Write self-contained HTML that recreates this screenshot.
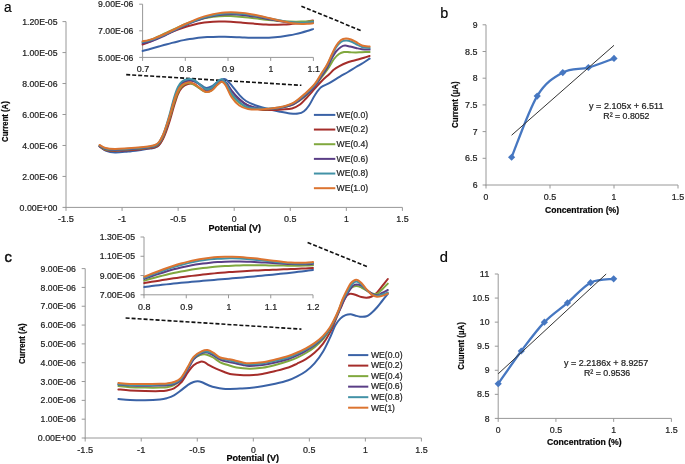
<!DOCTYPE html>
<html><head><meta charset="utf-8"><title>figure</title>
<style>
html,body{margin:0;padding:0;background:#fff;}
body{width:685px;height:464px;overflow:hidden;}
svg{display:block;font-family:"Liberation Sans",sans-serif;fill:#1e1e1e;filter:blur(0.45px);}
text{stroke:#1e1e1e;stroke-width:0.22px;}
</style></head>
<body>
<svg width="685" height="464" viewBox="0 0 685 464">
<rect width="685" height="464" fill="#fff"/>
<line x1="66.00" y1="21.60" x2="66.00" y2="207.90" stroke="#989898" stroke-width="1" />
<line x1="65.50" y1="207.40" x2="402.40" y2="207.40" stroke="#989898" stroke-width="1" />
<line x1="62.50" y1="207.40" x2="66.00" y2="207.40" stroke="#989898" stroke-width="1" />
<text x="57.50" y="210.50" font-size="8.8" textLength="37.95" lengthAdjust="spacingAndGlyphs" text-anchor="end">0.00E+00</text>
<line x1="62.50" y1="176.43" x2="66.00" y2="176.43" stroke="#989898" stroke-width="1" />
<text x="57.50" y="179.53" font-size="8.8" textLength="35.20" lengthAdjust="spacingAndGlyphs" text-anchor="end">2.00E-06</text>
<line x1="62.50" y1="145.47" x2="66.00" y2="145.47" stroke="#989898" stroke-width="1" />
<text x="57.50" y="148.57" font-size="8.8" textLength="35.20" lengthAdjust="spacingAndGlyphs" text-anchor="end">4.00E-06</text>
<line x1="62.50" y1="114.50" x2="66.00" y2="114.50" stroke="#989898" stroke-width="1" />
<text x="57.50" y="117.60" font-size="8.8" textLength="35.20" lengthAdjust="spacingAndGlyphs" text-anchor="end">6.00E-06</text>
<line x1="62.50" y1="83.53" x2="66.00" y2="83.53" stroke="#989898" stroke-width="1" />
<text x="57.50" y="86.63" font-size="8.8" textLength="35.20" lengthAdjust="spacingAndGlyphs" text-anchor="end">8.00E-06</text>
<line x1="62.50" y1="52.57" x2="66.00" y2="52.57" stroke="#989898" stroke-width="1" />
<text x="57.50" y="55.67" font-size="8.8" textLength="35.20" lengthAdjust="spacingAndGlyphs" text-anchor="end">1.00E-05</text>
<line x1="62.50" y1="21.60" x2="66.00" y2="21.60" stroke="#989898" stroke-width="1" />
<text x="57.50" y="24.70" font-size="8.8" textLength="35.20" lengthAdjust="spacingAndGlyphs" text-anchor="end">1.20E-05</text>
<line x1="66.00" y1="207.40" x2="66.00" y2="210.90" stroke="#989898" stroke-width="1" />
<text x="66.00" y="221.70" font-size="8.8" textLength="15.89" lengthAdjust="spacingAndGlyphs" text-anchor="middle">-1.5</text>
<line x1="122.07" y1="207.40" x2="122.07" y2="210.90" stroke="#989898" stroke-width="1" />
<text x="122.07" y="221.70" font-size="8.8" textLength="8.29" lengthAdjust="spacingAndGlyphs" text-anchor="middle">-1</text>
<line x1="178.13" y1="207.40" x2="178.13" y2="210.90" stroke="#989898" stroke-width="1" />
<text x="178.13" y="221.70" font-size="8.8" textLength="15.89" lengthAdjust="spacingAndGlyphs" text-anchor="middle">-0.5</text>
<line x1="234.20" y1="207.40" x2="234.20" y2="210.90" stroke="#989898" stroke-width="1" />
<text x="234.20" y="221.70" font-size="8.8" textLength="4.83" lengthAdjust="spacingAndGlyphs" text-anchor="middle">0</text>
<line x1="290.27" y1="207.40" x2="290.27" y2="210.90" stroke="#989898" stroke-width="1" />
<text x="290.27" y="221.70" font-size="8.8" textLength="12.43" lengthAdjust="spacingAndGlyphs" text-anchor="middle">0.5</text>
<line x1="346.33" y1="207.40" x2="346.33" y2="210.90" stroke="#989898" stroke-width="1" />
<text x="346.33" y="221.70" font-size="8.8" textLength="4.83" lengthAdjust="spacingAndGlyphs" text-anchor="middle">1</text>
<line x1="402.40" y1="207.40" x2="402.40" y2="210.90" stroke="#989898" stroke-width="1" />
<text x="402.40" y="221.70" font-size="8.8" textLength="12.43" lengthAdjust="spacingAndGlyphs" text-anchor="middle">1.5</text>
<text x="234.70" y="230.80" font-size="8.6" textLength="52.60" lengthAdjust="spacingAndGlyphs" text-anchor="middle" font-weight="bold" fill="#000" stroke="#000">Potential (V)</text>
<text x="8.30" y="121.60" font-size="8.6" textLength="40.60" lengthAdjust="spacingAndGlyphs" text-anchor="middle" font-weight="bold" fill="#000" stroke="#000" transform="rotate(-90 8.30 121.60)">Current (A)</text>
<line x1="142.60" y1="4.20" x2="142.60" y2="57.90" stroke="#989898" stroke-width="1" />
<line x1="142.10" y1="57.40" x2="313.40" y2="57.40" stroke="#989898" stroke-width="1" />
<line x1="139.20" y1="57.40" x2="142.60" y2="57.40" stroke="#989898" stroke-width="1" />
<text x="133.30" y="60.50" font-size="8.8" textLength="35.20" lengthAdjust="spacingAndGlyphs" text-anchor="end">5.00E-06</text>
<line x1="139.20" y1="30.80" x2="142.60" y2="30.80" stroke="#989898" stroke-width="1" />
<text x="133.30" y="33.90" font-size="8.8" textLength="35.20" lengthAdjust="spacingAndGlyphs" text-anchor="end">7.00E-06</text>
<line x1="139.20" y1="4.20" x2="142.60" y2="4.20" stroke="#989898" stroke-width="1" />
<text x="133.30" y="7.30" font-size="8.8" textLength="35.20" lengthAdjust="spacingAndGlyphs" text-anchor="end">9.00E-06</text>
<line x1="142.60" y1="57.40" x2="142.60" y2="60.90" stroke="#989898" stroke-width="1" />
<text x="142.90" y="71.80" font-size="8.8" textLength="12.43" lengthAdjust="spacingAndGlyphs" text-anchor="middle">0.7</text>
<line x1="185.30" y1="57.40" x2="185.30" y2="60.90" stroke="#989898" stroke-width="1" />
<text x="185.60" y="71.80" font-size="8.8" textLength="12.43" lengthAdjust="spacingAndGlyphs" text-anchor="middle">0.8</text>
<line x1="228.00" y1="57.40" x2="228.00" y2="60.90" stroke="#989898" stroke-width="1" />
<text x="228.30" y="71.80" font-size="8.8" textLength="12.43" lengthAdjust="spacingAndGlyphs" text-anchor="middle">0.9</text>
<line x1="270.70" y1="57.40" x2="270.70" y2="60.90" stroke="#989898" stroke-width="1" />
<text x="271.00" y="71.80" font-size="8.8" textLength="4.83" lengthAdjust="spacingAndGlyphs" text-anchor="middle">1</text>
<line x1="313.40" y1="57.40" x2="313.40" y2="60.90" stroke="#989898" stroke-width="1" />
<text x="313.70" y="71.80" font-size="8.8" textLength="12.43" lengthAdjust="spacingAndGlyphs" text-anchor="middle">1.1</text>
<line x1="126.20" y1="74.60" x2="301.40" y2="85.30" stroke="#111" stroke-width="1.6" stroke-dasharray="4 2"/>
<line x1="301.40" y1="6.20" x2="361.00" y2="30.60" stroke="#111" stroke-width="1.6" stroke-dasharray="4 2"/>
<path d="M99.60,146.50 C100.58,147.17 102.93,149.50 105.50,150.50 C108.07,151.50 111.25,152.33 115.00,152.50 C118.75,152.67 123.67,151.93 128.00,151.50 C132.33,151.07 137.33,150.38 141.00,149.90 C144.67,149.42 147.67,149.00 150.00,148.60 C152.33,148.20 153.50,148.10 155.00,147.50 C156.50,146.90 157.67,146.58 159.00,145.00 C160.33,143.42 161.83,140.50 163.00,138.00 C164.17,135.50 164.83,133.50 166.00,130.00 C167.17,126.50 168.67,121.67 170.00,117.00 C171.33,112.33 172.67,106.50 174.00,102.00 C175.33,97.50 176.67,93.00 178.00,90.00 C179.33,87.00 180.37,85.50 182.00,84.00 C183.63,82.50 185.85,81.50 187.80,81.00 C189.75,80.50 191.73,80.50 193.70,81.00 C195.67,81.50 197.63,82.87 199.60,84.00 C201.57,85.13 203.52,87.38 205.50,87.80 C207.48,88.22 209.52,87.47 211.50,86.50 C213.48,85.53 215.65,83.17 217.40,82.00 C219.15,80.83 220.62,79.93 222.00,79.50 C223.38,79.07 224.10,78.42 225.70,79.40 C227.30,80.38 229.33,82.82 231.60,85.40 C233.87,87.98 236.90,92.30 239.30,94.90 C241.70,97.50 243.22,99.23 246.00,101.00 C248.78,102.77 252.00,104.08 256.00,105.50 C260.00,106.92 266.00,108.47 270.00,109.50 C274.00,110.53 276.67,111.05 280.00,111.70 C283.33,112.35 287.00,113.08 290.00,113.40 C293.00,113.72 295.67,113.97 298.00,113.60 C300.33,113.23 302.17,112.55 304.00,111.20 C305.83,109.85 307.17,108.20 309.00,105.50 C310.83,102.80 313.00,98.03 315.00,95.00 C317.00,91.97 318.63,89.28 321.00,87.30 C323.37,85.32 326.05,84.88 329.20,83.10 C332.35,81.32 336.77,78.45 339.90,76.60 C343.03,74.75 345.32,73.60 348.00,72.00 C350.68,70.40 353.50,68.50 356.00,67.00 C358.50,65.50 360.73,64.40 363.00,63.00 C365.27,61.60 368.50,59.33 369.60,58.60" fill="none" stroke="#3a62a6" stroke-width="2.0" stroke-linejoin="round" stroke-linecap="round"/>
<path d="M99.60,146.50 C100.58,147.08 102.93,149.25 105.50,150.00 C108.07,150.75 111.25,150.95 115.00,151.00 C118.75,151.05 123.67,150.58 128.00,150.30 C132.33,150.02 137.33,149.68 141.00,149.30 C144.67,148.92 147.67,148.35 150.00,148.00 C152.33,147.65 153.50,147.70 155.00,147.20 C156.50,146.70 157.67,146.37 159.00,145.00 C160.33,143.63 161.83,141.17 163.00,139.00 C164.17,136.83 164.83,135.17 166.00,132.00 C167.17,128.83 168.67,124.33 170.00,120.00 C171.33,115.67 172.67,110.33 174.00,106.00 C175.33,101.67 176.67,97.08 178.00,94.00 C179.33,90.92 180.37,89.17 182.00,87.50 C183.63,85.83 185.85,84.58 187.80,84.00 C189.75,83.42 191.73,83.33 193.70,84.00 C195.67,84.67 197.63,86.78 199.60,88.00 C201.57,89.22 203.52,90.97 205.50,91.30 C207.48,91.63 209.52,91.13 211.50,90.00 C213.48,88.87 215.65,85.95 217.40,84.50 C219.15,83.05 220.57,81.38 222.00,81.30 C223.43,81.22 224.40,82.33 226.00,84.00 C227.60,85.67 229.38,88.70 231.60,91.30 C233.82,93.90 236.57,97.23 239.30,99.60 C242.03,101.97 244.55,103.85 248.00,105.50 C251.45,107.15 256.33,108.75 260.00,109.50 C263.67,110.25 266.33,110.00 270.00,110.00 C273.67,110.00 278.33,109.75 282.00,109.50 C285.67,109.25 289.00,109.33 292.00,108.50 C295.00,107.67 297.67,106.17 300.00,104.50 C302.33,102.83 303.50,101.18 306.00,98.50 C308.50,95.82 312.33,91.37 315.00,88.40 C317.67,85.43 319.63,83.07 322.00,80.70 C324.37,78.33 327.20,76.07 329.20,74.20 C331.20,72.33 332.22,70.88 334.00,69.50 C335.78,68.12 337.90,66.98 339.90,65.90 C341.90,64.82 343.98,63.82 346.00,63.00 C348.02,62.18 350.00,61.58 352.00,61.00 C354.00,60.42 356.00,60.05 358.00,59.50 C360.00,58.95 362.07,58.28 364.00,57.70 C365.93,57.12 368.67,56.28 369.60,56.00" fill="none" stroke="#a52d2a" stroke-width="2.0" stroke-linejoin="round" stroke-linecap="round"/>
<path d="M99.60,146.00 C100.58,146.58 102.93,148.78 105.50,149.50 C108.07,150.22 111.25,150.30 115.00,150.30 C118.75,150.30 123.67,149.80 128.00,149.50 C132.33,149.20 137.33,148.88 141.00,148.50 C144.67,148.12 147.67,147.57 150.00,147.20 C152.33,146.83 153.50,146.92 155.00,146.30 C156.50,145.68 157.67,145.05 159.00,143.50 C160.33,141.95 161.83,139.42 163.00,137.00 C164.17,134.58 164.83,132.33 166.00,129.00 C167.17,125.67 168.67,121.33 170.00,117.00 C171.33,112.67 172.67,107.17 174.00,103.00 C175.33,98.83 176.67,94.83 178.00,92.00 C179.33,89.17 180.33,87.50 182.00,86.00 C183.67,84.50 186.05,83.25 188.00,83.00 C189.95,82.75 191.77,83.58 193.70,84.50 C195.63,85.42 197.55,87.25 199.60,88.50 C201.65,89.75 204.02,91.67 206.00,92.00 C207.98,92.33 209.60,91.75 211.50,90.50 C213.40,89.25 215.65,86.00 217.40,84.50 C219.15,83.00 220.57,81.42 222.00,81.50 C223.43,81.58 224.40,82.75 226.00,85.00 C227.60,87.25 229.38,92.00 231.60,95.00 C233.82,98.00 236.57,100.92 239.30,103.00 C242.03,105.08 244.55,106.50 248.00,107.50 C251.45,108.50 256.33,108.75 260.00,109.00 C263.67,109.25 266.33,109.25 270.00,109.00 C273.67,108.75 278.05,108.33 282.00,107.50 C285.95,106.67 289.78,105.92 293.70,104.00 C297.62,102.08 301.95,99.08 305.50,96.00 C309.05,92.92 312.42,88.50 315.00,85.50 C317.58,82.50 318.67,81.07 321.00,78.00 C323.33,74.93 326.83,70.27 329.00,67.10 C331.17,63.93 332.33,61.18 334.00,59.00 C335.67,56.82 337.33,55.17 339.00,54.00 C340.67,52.83 342.17,52.28 344.00,52.00 C345.83,51.72 348.00,52.22 350.00,52.30 C352.00,52.38 354.00,52.52 356.00,52.50 C358.00,52.48 359.73,52.28 362.00,52.20 C364.27,52.12 368.33,52.03 369.60,52.00" fill="none" stroke="#80a83e" stroke-width="2.0" stroke-linejoin="round" stroke-linecap="round"/>
<path d="M99.60,146.00 C100.58,146.50 102.93,148.33 105.50,149.00 C108.07,149.67 111.25,149.95 115.00,150.00 C118.75,150.05 123.67,149.58 128.00,149.30 C132.33,149.02 137.33,148.68 141.00,148.30 C144.67,147.92 147.67,147.38 150.00,147.00 C152.33,146.62 153.50,146.67 155.00,146.00 C156.50,145.33 157.67,144.67 159.00,143.00 C160.33,141.33 161.83,138.50 163.00,136.00 C164.17,133.50 164.83,131.50 166.00,128.00 C167.17,124.50 168.67,119.67 170.00,115.00 C171.33,110.33 172.67,104.33 174.00,100.00 C175.33,95.67 176.67,91.83 178.00,89.00 C179.33,86.17 180.37,84.37 182.00,83.00 C183.63,81.63 185.85,81.13 187.80,80.80 C189.75,80.47 191.73,80.38 193.70,81.00 C195.67,81.62 197.63,83.08 199.60,84.50 C201.57,85.92 203.52,88.83 205.50,89.50 C207.48,90.17 209.52,89.67 211.50,88.50 C213.48,87.33 215.57,83.92 217.40,82.50 C219.23,81.08 220.98,79.92 222.50,80.00 C224.02,80.08 224.98,81.25 226.50,83.00 C228.02,84.75 229.47,87.83 231.60,90.50 C233.73,93.17 236.57,96.50 239.30,99.00 C242.03,101.50 244.55,103.92 248.00,105.50 C251.45,107.08 256.33,107.92 260.00,108.50 C263.67,109.08 266.33,109.17 270.00,109.00 C273.67,108.83 278.05,108.33 282.00,107.50 C285.95,106.67 289.78,106.00 293.70,104.00 C297.62,102.00 301.95,98.50 305.50,95.50 C309.05,92.50 312.42,89.08 315.00,86.00 C317.58,82.92 319.00,80.00 321.00,77.00 C323.00,74.00 325.17,71.17 327.00,68.00 C328.83,64.83 330.50,60.75 332.00,58.00 C333.50,55.25 334.50,53.33 336.00,51.50 C337.50,49.67 339.50,47.98 341.00,47.00 C342.50,46.02 343.50,45.68 345.00,45.60 C346.50,45.52 348.17,46.10 350.00,46.50 C351.83,46.90 354.00,47.53 356.00,48.00 C358.00,48.47 359.73,49.03 362.00,49.30 C364.27,49.57 368.33,49.55 369.60,49.60" fill="none" stroke="#5a3e86" stroke-width="2.0" stroke-linejoin="round" stroke-linecap="round"/>
<path d="M99.60,145.50 C100.58,146.00 102.93,147.83 105.50,148.50 C108.07,149.17 111.25,149.45 115.00,149.50 C118.75,149.55 123.67,149.08 128.00,148.80 C132.33,148.52 137.33,148.18 141.00,147.80 C144.67,147.42 147.67,146.88 150.00,146.50 C152.33,146.12 153.50,146.17 155.00,145.50 C156.50,144.83 157.67,144.25 159.00,142.50 C160.33,140.75 161.83,137.67 163.00,135.00 C164.17,132.33 164.83,130.17 166.00,126.50 C167.17,122.83 168.67,117.75 170.00,113.00 C171.33,108.25 172.67,102.33 174.00,98.00 C175.33,93.67 176.67,89.75 178.00,87.00 C179.33,84.25 180.37,82.80 182.00,81.50 C183.63,80.20 185.85,79.45 187.80,79.20 C189.75,78.95 191.73,79.17 193.70,80.00 C195.67,80.83 197.63,82.70 199.60,84.20 C201.57,85.70 203.52,88.40 205.50,89.00 C207.48,89.60 209.52,89.00 211.50,87.80 C213.48,86.60 215.73,83.23 217.40,81.80 C219.07,80.37 220.12,79.00 221.50,79.20 C222.88,79.40 224.02,80.58 225.70,83.00 C227.38,85.42 229.33,90.53 231.60,93.70 C233.87,96.87 236.57,99.70 239.30,102.00 C242.03,104.30 244.55,106.42 248.00,107.50 C251.45,108.58 256.33,108.33 260.00,108.50 C263.67,108.67 266.33,108.75 270.00,108.50 C273.67,108.25 278.05,107.92 282.00,107.00 C285.95,106.08 289.78,105.17 293.70,103.00 C297.62,100.83 301.95,97.08 305.50,94.00 C309.05,90.92 312.42,87.67 315.00,84.50 C317.58,81.33 319.00,78.17 321.00,75.00 C323.00,71.83 325.17,68.83 327.00,65.50 C328.83,62.17 330.50,58.00 332.00,55.00 C333.50,52.00 334.50,49.67 336.00,47.50 C337.50,45.33 339.33,43.15 341.00,42.00 C342.67,40.85 344.33,40.68 346.00,40.60 C347.67,40.52 349.33,40.93 351.00,41.50 C352.67,42.07 354.17,43.08 356.00,44.00 C357.83,44.92 359.73,46.33 362.00,47.00 C364.27,47.67 368.33,47.83 369.60,48.00" fill="none" stroke="#4292a6" stroke-width="2.0" stroke-linejoin="round" stroke-linecap="round"/>
<path d="M99.60,145.00 C100.58,145.50 102.93,147.33 105.50,148.00 C108.07,148.67 111.25,148.95 115.00,149.00 C118.75,149.05 123.67,148.58 128.00,148.30 C132.33,148.02 137.33,147.65 141.00,147.30 C144.67,146.95 147.67,146.58 150.00,146.20 C152.33,145.82 153.50,145.70 155.00,145.00 C156.50,144.30 157.67,143.67 159.00,142.00 C160.33,140.33 161.83,137.50 163.00,135.00 C164.17,132.50 164.83,130.33 166.00,127.00 C167.17,123.67 168.67,119.33 170.00,115.00 C171.33,110.67 172.67,105.08 174.00,101.00 C175.33,96.92 176.67,93.17 178.00,90.50 C179.33,87.83 180.37,86.35 182.00,85.00 C183.63,83.65 185.85,82.63 187.80,82.40 C189.75,82.17 191.73,82.70 193.70,83.60 C195.67,84.50 197.63,86.42 199.60,87.80 C201.57,89.18 203.52,91.42 205.50,91.90 C207.48,92.38 209.52,91.88 211.50,90.70 C213.48,89.52 215.73,86.28 217.40,84.80 C219.07,83.32 220.12,81.70 221.50,81.80 C222.88,81.90 224.02,82.82 225.70,85.40 C227.38,87.98 229.33,93.95 231.60,97.30 C233.87,100.65 236.57,103.55 239.30,105.50 C242.03,107.45 244.55,108.33 248.00,109.00 C251.45,109.67 256.33,109.58 260.00,109.50 C263.67,109.42 266.33,108.95 270.00,108.50 C273.67,108.05 278.05,107.77 282.00,106.80 C285.95,105.83 289.78,104.97 293.70,102.70 C297.62,100.43 301.95,96.37 305.50,93.20 C309.05,90.03 312.42,86.87 315.00,83.70 C317.58,80.53 319.00,77.37 321.00,74.20 C323.00,71.03 325.17,68.07 327.00,64.70 C328.83,61.33 330.50,57.12 332.00,54.00 C333.50,50.88 334.50,48.33 336.00,46.00 C337.50,43.67 339.33,41.25 341.00,40.00 C342.67,38.75 344.33,38.58 346.00,38.50 C347.67,38.42 349.33,38.92 351.00,39.50 C352.67,40.08 354.17,41.00 356.00,42.00 C357.83,43.00 359.73,44.73 362.00,45.50 C364.27,46.27 368.33,46.42 369.60,46.60" fill="none" stroke="#dc7430" stroke-width="2.0" stroke-linejoin="round" stroke-linecap="round"/>
<path d="M142.60,50.93 C143.58,50.69 146.52,49.98 148.48,49.47 C150.43,48.95 152.39,48.39 154.35,47.83 C156.31,47.28 158.27,46.70 160.23,46.13 C162.19,45.57 164.14,45.00 166.10,44.45 C168.06,43.91 170.02,43.37 171.98,42.86 C173.94,42.35 175.90,41.86 177.86,41.41 C179.81,40.95 181.77,40.52 183.73,40.13 C185.69,39.74 187.65,39.38 189.61,39.06 C191.57,38.74 193.52,38.45 195.48,38.20 C197.44,37.95 199.40,37.74 201.36,37.56 C203.32,37.38 205.28,37.24 207.23,37.12 C209.19,37.01 211.15,36.93 213.11,36.88 C215.07,36.82 217.03,36.80 218.99,36.80 C220.94,36.79 222.90,36.82 224.86,36.85 C226.82,36.89 228.78,36.95 230.74,37.01 C232.70,37.07 234.66,37.15 236.61,37.22 C238.57,37.30 240.53,37.38 242.49,37.46 C244.45,37.53 246.41,37.61 248.37,37.67 C250.32,37.73 252.28,37.79 254.24,37.82 C256.20,37.85 258.16,37.87 260.12,37.86 C262.08,37.85 264.03,37.82 265.99,37.76 C267.95,37.70 269.91,37.61 271.87,37.48 C273.83,37.35 275.79,37.20 277.74,37.00 C279.70,36.80 281.66,36.56 283.62,36.29 C285.58,36.01 287.54,35.69 289.50,35.33 C291.46,34.98 293.41,34.57 295.37,34.13 C297.33,33.69 299.29,33.21 301.25,32.69 C303.21,32.17 305.17,31.61 307.12,31.02 C309.08,30.43 312.02,29.46 313.00,29.15" fill="none" stroke="#3a62a6" stroke-width="2.0" stroke-linejoin="round" stroke-linecap="round"/>
<path d="M142.60,44.58 C143.58,44.19 146.52,43.06 148.48,42.24 C150.43,41.43 152.39,40.54 154.35,39.67 C156.31,38.80 158.27,37.89 160.23,37.00 C162.19,36.11 164.14,35.22 166.10,34.36 C168.06,33.49 170.02,32.64 171.98,31.83 C173.94,31.03 175.90,30.24 177.86,29.51 C179.81,28.78 181.77,28.09 183.73,27.45 C185.69,26.81 187.65,26.21 189.61,25.68 C191.57,25.14 193.52,24.65 195.48,24.22 C197.44,23.79 199.40,23.42 201.36,23.10 C203.32,22.78 205.28,22.51 207.23,22.29 C209.19,22.07 211.15,21.91 213.11,21.79 C215.07,21.67 217.03,21.60 218.99,21.56 C220.94,21.53 222.90,21.54 224.86,21.58 C226.82,21.62 228.78,21.70 230.74,21.79 C232.70,21.89 234.66,22.02 236.61,22.16 C238.57,22.30 240.53,22.47 242.49,22.63 C244.45,22.80 246.41,22.98 248.37,23.15 C250.32,23.33 252.28,23.51 254.24,23.67 C256.20,23.84 258.16,24.00 260.12,24.14 C262.08,24.28 264.03,24.41 265.99,24.51 C267.95,24.61 269.91,24.69 271.87,24.74 C273.83,24.78 275.79,24.80 277.74,24.78 C279.70,24.76 281.66,24.71 283.62,24.62 C285.58,24.53 287.54,24.40 289.50,24.23 C291.46,24.06 293.41,23.86 295.37,23.61 C297.33,23.36 299.29,23.08 301.25,22.76 C303.21,22.44 305.17,22.08 307.12,21.69 C309.08,21.31 312.02,20.66 313.00,20.46" fill="none" stroke="#a52d2a" stroke-width="2.0" stroke-linejoin="round" stroke-linecap="round"/>
<path d="M142.60,42.34 C143.58,42.05 146.52,41.28 148.48,40.61 C150.43,39.94 152.39,39.15 154.35,38.32 C156.31,37.50 158.27,36.59 160.23,35.68 C162.19,34.77 164.14,33.81 166.10,32.87 C168.06,31.93 170.02,30.96 171.98,30.03 C173.94,29.11 175.90,28.18 177.86,27.30 C179.81,26.42 181.77,25.56 183.73,24.76 C185.69,23.95 187.65,23.19 189.61,22.48 C191.57,21.78 193.52,21.12 195.48,20.53 C197.44,19.94 199.40,19.40 201.36,18.92 C203.32,18.45 205.28,18.04 207.23,17.68 C209.19,17.33 211.15,17.04 213.11,16.80 C215.07,16.57 217.03,16.39 218.99,16.27 C220.94,16.14 222.90,16.08 224.86,16.05 C226.82,16.03 228.78,16.05 230.74,16.12 C232.70,16.18 234.66,16.29 236.61,16.42 C238.57,16.55 240.53,16.72 242.49,16.91 C244.45,17.09 246.41,17.31 248.37,17.53 C250.32,17.76 252.28,18.00 254.24,18.24 C256.20,18.48 258.16,18.74 260.12,18.98 C262.08,19.22 264.03,19.47 265.99,19.69 C267.95,19.92 269.91,20.14 271.87,20.34 C273.83,20.54 275.79,20.73 277.74,20.89 C279.70,21.04 281.66,21.18 283.62,21.30 C285.58,21.41 287.54,21.49 289.50,21.55 C291.46,21.61 293.41,21.64 295.37,21.65 C297.33,21.66 299.29,21.64 301.25,21.60 C303.21,21.57 305.17,21.50 307.12,21.43 C309.08,21.36 312.02,21.23 313.00,21.19" fill="none" stroke="#80a83e" stroke-width="2.0" stroke-linejoin="round" stroke-linecap="round"/>
<path d="M142.60,43.32 C143.58,43.11 146.52,42.62 148.48,42.09 C150.43,41.56 152.39,40.86 154.35,40.12 C156.31,39.38 158.27,38.52 160.23,37.64 C162.19,36.76 164.14,35.80 166.10,34.84 C168.06,33.89 170.02,32.88 171.98,31.89 C173.94,30.90 175.90,29.90 177.86,28.92 C179.81,27.95 181.77,26.98 183.73,26.06 C185.69,25.14 187.65,24.24 189.61,23.40 C191.57,22.56 193.52,21.75 195.48,21.01 C197.44,20.27 199.40,19.58 201.36,18.96 C203.32,18.33 205.28,17.76 207.23,17.26 C209.19,16.76 211.15,16.33 213.11,15.96 C215.07,15.59 217.03,15.29 218.99,15.05 C220.94,14.81 222.90,14.63 224.86,14.52 C226.82,14.40 228.78,14.35 230.74,14.35 C232.70,14.35 234.66,14.41 236.61,14.52 C238.57,14.62 240.53,14.78 242.49,14.98 C244.45,15.17 246.41,15.41 248.37,15.68 C250.32,15.95 252.28,16.25 254.24,16.57 C256.20,16.89 258.16,17.25 260.12,17.60 C262.08,17.95 264.03,18.33 265.99,18.69 C267.95,19.06 269.91,19.44 271.87,19.79 C273.83,20.15 275.79,20.51 277.74,20.83 C279.70,21.16 281.66,21.48 283.62,21.75 C285.58,22.03 287.54,22.28 289.50,22.48 C291.46,22.69 293.41,22.86 295.37,22.98 C297.33,23.09 299.29,23.17 301.25,23.18 C303.21,23.19 305.17,23.15 307.12,23.04 C309.08,22.93 312.02,22.62 313.00,22.53" fill="none" stroke="#5a3e86" stroke-width="2.0" stroke-linejoin="round" stroke-linecap="round"/>
<path d="M142.60,41.90 C143.58,41.71 146.52,41.27 148.48,40.78 C150.43,40.29 152.39,39.66 154.35,38.97 C156.31,38.28 158.27,37.48 160.23,36.65 C162.19,35.82 164.14,34.92 166.10,34.01 C168.06,33.10 170.02,32.13 171.98,31.19 C173.94,30.24 175.90,29.27 177.86,28.32 C179.81,27.38 181.77,26.43 183.73,25.53 C185.69,24.62 187.65,23.73 189.61,22.89 C191.57,22.06 193.52,21.25 195.48,20.50 C197.44,19.75 199.40,19.04 201.36,18.40 C203.32,17.76 205.28,17.16 207.23,16.64 C209.19,16.11 211.15,15.65 213.11,15.25 C215.07,14.84 217.03,14.51 218.99,14.23 C220.94,13.96 222.90,13.75 224.86,13.60 C226.82,13.46 228.78,13.37 230.74,13.35 C232.70,13.32 234.66,13.36 236.61,13.44 C238.57,13.52 240.53,13.67 242.49,13.85 C244.45,14.03 246.41,14.27 248.37,14.53 C250.32,14.80 252.28,15.11 254.24,15.44 C256.20,15.77 258.16,16.14 260.12,16.52 C262.08,16.89 264.03,17.30 265.99,17.70 C267.95,18.10 269.91,18.51 271.87,18.91 C273.83,19.31 275.79,19.71 277.74,20.09 C279.70,20.46 281.66,20.82 283.62,21.14 C285.58,21.46 287.54,21.76 289.50,22.00 C291.46,22.24 293.41,22.45 295.37,22.58 C297.33,22.71 299.29,22.80 301.25,22.80 C303.21,22.80 305.17,22.73 307.12,22.57 C309.08,22.40 312.02,21.94 313.00,21.81" fill="none" stroke="#4292a6" stroke-width="2.0" stroke-linejoin="round" stroke-linecap="round"/>
<path d="M142.60,41.18 C143.58,41.00 146.52,40.60 148.48,40.12 C150.43,39.65 152.39,39.02 154.35,38.34 C156.31,37.66 158.27,36.86 160.23,36.04 C162.19,35.21 164.14,34.29 166.10,33.38 C168.06,32.46 170.02,31.48 171.98,30.52 C173.94,29.56 175.90,28.57 177.86,27.61 C179.81,26.64 181.77,25.67 183.73,24.75 C185.69,23.82 187.65,22.91 189.61,22.05 C191.57,21.18 193.52,20.35 195.48,19.58 C197.44,18.81 199.40,18.08 201.36,17.41 C203.32,16.75 205.28,16.14 207.23,15.60 C209.19,15.05 211.15,14.57 213.11,14.16 C215.07,13.75 217.03,13.40 218.99,13.12 C220.94,12.84 222.90,12.63 224.86,12.49 C226.82,12.34 228.78,12.27 230.74,12.25 C232.70,12.24 234.66,12.29 236.61,12.39 C238.57,12.50 240.53,12.67 242.49,12.88 C244.45,13.10 246.41,13.37 248.37,13.68 C250.32,13.99 252.28,14.35 254.24,14.73 C256.20,15.11 258.16,15.54 260.12,15.98 C262.08,16.42 264.03,16.89 265.99,17.36 C267.95,17.83 269.91,18.32 271.87,18.80 C273.83,19.27 275.79,19.76 277.74,20.21 C279.70,20.67 281.66,21.12 283.62,21.52 C285.58,21.93 287.54,22.31 289.50,22.64 C291.46,22.96 293.41,23.25 295.37,23.46 C297.33,23.67 299.29,23.84 301.25,23.90 C303.21,23.97 305.17,23.97 307.12,23.86 C309.08,23.75 312.02,23.34 313.00,23.24" fill="none" stroke="#dc7430" stroke-width="2.0" stroke-linejoin="round" stroke-linecap="round"/>
<line x1="313.90" y1="114.90" x2="335.30" y2="114.90" stroke="#3a62a6" stroke-width="2" />
<text x="336.50" y="117.70" font-size="8.8" textLength="31.65" lengthAdjust="spacingAndGlyphs">WE(0.0)</text>
<line x1="313.90" y1="129.56" x2="335.30" y2="129.56" stroke="#a52d2a" stroke-width="2" />
<text x="336.50" y="132.36" font-size="8.8" textLength="31.65" lengthAdjust="spacingAndGlyphs">WE(0.2)</text>
<line x1="313.90" y1="144.22" x2="335.30" y2="144.22" stroke="#80a83e" stroke-width="2" />
<text x="336.50" y="147.02" font-size="8.8" textLength="31.65" lengthAdjust="spacingAndGlyphs">WE(0.4)</text>
<line x1="313.90" y1="158.88" x2="335.30" y2="158.88" stroke="#5a3e86" stroke-width="2" />
<text x="336.50" y="161.68" font-size="8.8" textLength="31.65" lengthAdjust="spacingAndGlyphs">WE(0.6)</text>
<line x1="313.90" y1="173.54" x2="335.30" y2="173.54" stroke="#4292a6" stroke-width="2" />
<text x="336.50" y="176.34" font-size="8.8" textLength="31.65" lengthAdjust="spacingAndGlyphs">WE(0.8)</text>
<line x1="313.90" y1="188.20" x2="335.30" y2="188.20" stroke="#dc7430" stroke-width="2" />
<text x="336.50" y="191.00" font-size="8.8" textLength="31.65" lengthAdjust="spacingAndGlyphs">WE(1.0)</text>
<line x1="85.20" y1="268.60" x2="85.20" y2="438.50" stroke="#989898" stroke-width="1" />
<line x1="84.70" y1="438.00" x2="421.40" y2="438.00" stroke="#989898" stroke-width="1" />
<line x1="81.70" y1="438.00" x2="85.20" y2="438.00" stroke="#989898" stroke-width="1" />
<text x="75.80" y="441.10" font-size="8.8" textLength="37.95" lengthAdjust="spacingAndGlyphs" text-anchor="end">0.00E+00</text>
<line x1="81.70" y1="419.18" x2="85.20" y2="419.18" stroke="#989898" stroke-width="1" />
<text x="75.80" y="422.28" font-size="8.8" textLength="35.20" lengthAdjust="spacingAndGlyphs" text-anchor="end">1.00E-06</text>
<line x1="81.70" y1="400.36" x2="85.20" y2="400.36" stroke="#989898" stroke-width="1" />
<text x="75.80" y="403.46" font-size="8.8" textLength="35.20" lengthAdjust="spacingAndGlyphs" text-anchor="end">2.00E-06</text>
<line x1="81.70" y1="381.53" x2="85.20" y2="381.53" stroke="#989898" stroke-width="1" />
<text x="75.80" y="384.63" font-size="8.8" textLength="35.20" lengthAdjust="spacingAndGlyphs" text-anchor="end">3.00E-06</text>
<line x1="81.70" y1="362.71" x2="85.20" y2="362.71" stroke="#989898" stroke-width="1" />
<text x="75.80" y="365.81" font-size="8.8" textLength="35.20" lengthAdjust="spacingAndGlyphs" text-anchor="end">4.00E-06</text>
<line x1="81.70" y1="343.89" x2="85.20" y2="343.89" stroke="#989898" stroke-width="1" />
<text x="75.80" y="346.99" font-size="8.8" textLength="35.20" lengthAdjust="spacingAndGlyphs" text-anchor="end">5.00E-06</text>
<line x1="81.70" y1="325.07" x2="85.20" y2="325.07" stroke="#989898" stroke-width="1" />
<text x="75.80" y="328.17" font-size="8.8" textLength="35.20" lengthAdjust="spacingAndGlyphs" text-anchor="end">6.00E-06</text>
<line x1="81.70" y1="306.24" x2="85.20" y2="306.24" stroke="#989898" stroke-width="1" />
<text x="75.80" y="309.34" font-size="8.8" textLength="35.20" lengthAdjust="spacingAndGlyphs" text-anchor="end">7.00E-06</text>
<line x1="81.70" y1="287.42" x2="85.20" y2="287.42" stroke="#989898" stroke-width="1" />
<text x="75.80" y="290.52" font-size="8.8" textLength="35.20" lengthAdjust="spacingAndGlyphs" text-anchor="end">8.00E-06</text>
<line x1="81.70" y1="268.60" x2="85.20" y2="268.60" stroke="#989898" stroke-width="1" />
<text x="75.80" y="271.70" font-size="8.8" textLength="35.20" lengthAdjust="spacingAndGlyphs" text-anchor="end">9.00E-06</text>
<line x1="85.20" y1="438.00" x2="85.20" y2="441.50" stroke="#989898" stroke-width="1" />
<text x="85.20" y="452.60" font-size="8.8" textLength="15.89" lengthAdjust="spacingAndGlyphs" text-anchor="middle">-1.5</text>
<line x1="141.23" y1="438.00" x2="141.23" y2="441.50" stroke="#989898" stroke-width="1" />
<text x="141.23" y="452.60" font-size="8.8" textLength="8.29" lengthAdjust="spacingAndGlyphs" text-anchor="middle">-1</text>
<line x1="197.27" y1="438.00" x2="197.27" y2="441.50" stroke="#989898" stroke-width="1" />
<text x="197.27" y="452.60" font-size="8.8" textLength="15.89" lengthAdjust="spacingAndGlyphs" text-anchor="middle">-0.5</text>
<line x1="253.30" y1="438.00" x2="253.30" y2="441.50" stroke="#989898" stroke-width="1" />
<text x="253.30" y="452.60" font-size="8.8" textLength="4.83" lengthAdjust="spacingAndGlyphs" text-anchor="middle">0</text>
<line x1="309.33" y1="438.00" x2="309.33" y2="441.50" stroke="#989898" stroke-width="1" />
<text x="309.33" y="452.60" font-size="8.8" textLength="12.43" lengthAdjust="spacingAndGlyphs" text-anchor="middle">0.5</text>
<line x1="365.37" y1="438.00" x2="365.37" y2="441.50" stroke="#989898" stroke-width="1" />
<text x="365.37" y="452.60" font-size="8.8" textLength="4.83" lengthAdjust="spacingAndGlyphs" text-anchor="middle">1</text>
<line x1="421.40" y1="438.00" x2="421.40" y2="441.50" stroke="#989898" stroke-width="1" />
<text x="421.40" y="452.60" font-size="8.8" textLength="12.43" lengthAdjust="spacingAndGlyphs" text-anchor="middle">1.5</text>
<text x="252.70" y="461.30" font-size="8.6" textLength="52.60" lengthAdjust="spacingAndGlyphs" text-anchor="middle" font-weight="bold" fill="#000" stroke="#000">Potential (V)</text>
<text x="24.70" y="343.70" font-size="8.6" textLength="40.80" lengthAdjust="spacingAndGlyphs" text-anchor="middle" font-weight="bold" fill="#000" stroke="#000" transform="rotate(-90 24.70 343.70)">Current (A)</text>
<line x1="144.00" y1="237.00" x2="144.00" y2="295.30" stroke="#989898" stroke-width="1" />
<line x1="143.50" y1="294.80" x2="313.00" y2="294.80" stroke="#989898" stroke-width="1" />
<line x1="140.50" y1="294.80" x2="144.00" y2="294.80" stroke="#989898" stroke-width="1" />
<text x="135.00" y="297.90" font-size="8.8" textLength="35.20" lengthAdjust="spacingAndGlyphs" text-anchor="end">7.00E-06</text>
<line x1="140.50" y1="275.53" x2="144.00" y2="275.53" stroke="#989898" stroke-width="1" />
<text x="135.00" y="278.63" font-size="8.8" textLength="35.20" lengthAdjust="spacingAndGlyphs" text-anchor="end">9.00E-06</text>
<line x1="140.50" y1="256.27" x2="144.00" y2="256.27" stroke="#989898" stroke-width="1" />
<text x="135.00" y="259.37" font-size="8.8" textLength="35.20" lengthAdjust="spacingAndGlyphs" text-anchor="end">1.10E-05</text>
<line x1="140.50" y1="237.00" x2="144.00" y2="237.00" stroke="#989898" stroke-width="1" />
<text x="135.00" y="240.10" font-size="8.8" textLength="35.20" lengthAdjust="spacingAndGlyphs" text-anchor="end">1.30E-05</text>
<line x1="144.00" y1="294.80" x2="144.00" y2="298.30" stroke="#989898" stroke-width="1" />
<text x="144.30" y="310.20" font-size="8.8" textLength="12.43" lengthAdjust="spacingAndGlyphs" text-anchor="middle">0.8</text>
<line x1="186.25" y1="294.80" x2="186.25" y2="298.30" stroke="#989898" stroke-width="1" />
<text x="186.55" y="310.20" font-size="8.8" textLength="12.43" lengthAdjust="spacingAndGlyphs" text-anchor="middle">0.9</text>
<line x1="228.50" y1="294.80" x2="228.50" y2="298.30" stroke="#989898" stroke-width="1" />
<text x="228.80" y="310.20" font-size="8.8" textLength="4.83" lengthAdjust="spacingAndGlyphs" text-anchor="middle">1</text>
<line x1="270.75" y1="294.80" x2="270.75" y2="298.30" stroke="#989898" stroke-width="1" />
<text x="271.05" y="310.20" font-size="8.8" textLength="12.43" lengthAdjust="spacingAndGlyphs" text-anchor="middle">1.1</text>
<line x1="313.00" y1="294.80" x2="313.00" y2="298.30" stroke="#989898" stroke-width="1" />
<text x="313.30" y="310.20" font-size="8.8" textLength="12.43" lengthAdjust="spacingAndGlyphs" text-anchor="middle">1.2</text>
<line x1="125.60" y1="318.00" x2="301.40" y2="329.10" stroke="#111" stroke-width="1.6" stroke-dasharray="4 2"/>
<line x1="307.60" y1="242.40" x2="367.00" y2="266.60" stroke="#111" stroke-width="1.6" stroke-dasharray="4 2"/>
<path d="M118.40,399.00 C120.33,399.17 125.57,399.78 130.00,400.00 C134.43,400.22 140.00,400.38 145.00,400.30 C150.00,400.22 156.33,399.87 160.00,399.50 C163.67,399.13 164.67,398.80 167.00,398.10 C169.33,397.40 171.67,396.58 174.00,395.30 C176.33,394.02 178.67,392.15 181.00,390.40 C183.33,388.65 185.90,386.20 188.00,384.80 C190.10,383.40 191.97,382.58 193.60,382.00 C195.23,381.42 196.40,381.25 197.80,381.30 C199.20,381.35 200.13,381.60 202.00,382.30 C203.87,383.00 206.67,384.62 209.00,385.50 C211.33,386.38 213.67,387.07 216.00,387.60 C218.33,388.13 220.67,388.48 223.00,388.70 C225.33,388.92 227.17,388.93 230.00,388.90 C232.83,388.87 236.77,388.67 240.00,388.50 C243.23,388.33 245.68,388.27 249.40,387.90 C253.12,387.53 257.98,386.98 262.30,386.30 C266.62,385.62 270.95,384.80 275.30,383.80 C279.65,382.80 284.75,381.53 288.40,380.30 C292.05,379.07 294.28,377.92 297.20,376.40 C300.12,374.88 303.02,373.37 305.90,371.20 C308.78,369.03 311.63,366.70 314.50,363.40 C317.37,360.10 320.52,355.70 323.10,351.40 C325.68,347.10 327.98,341.92 330.00,337.60 C332.02,333.28 333.48,328.67 335.20,325.50 C336.92,322.33 338.58,320.32 340.30,318.60 C342.02,316.88 343.77,315.92 345.50,315.20 C347.23,314.48 349.12,314.25 350.70,314.30 C352.28,314.35 353.45,315.10 355.00,315.50 C356.55,315.90 358.07,316.57 360.00,316.70 C361.93,316.83 364.65,316.97 366.60,316.30 C368.55,315.63 369.98,314.17 371.70,312.70 C373.42,311.23 375.17,309.45 376.90,307.50 C378.63,305.55 380.28,303.27 382.10,301.00 C383.92,298.73 386.85,295.08 387.80,293.90" fill="none" stroke="#3a62a6" stroke-width="2.0" stroke-linejoin="round" stroke-linecap="round"/>
<path d="M118.40,389.40 C120.33,389.57 125.57,390.13 130.00,390.40 C134.43,390.67 140.00,390.88 145.00,391.00 C150.00,391.12 156.33,391.20 160.00,391.10 C163.67,391.00 164.67,390.87 167.00,390.40 C169.33,389.93 171.67,389.58 174.00,388.30 C176.33,387.02 178.67,385.38 181.00,382.70 C183.33,380.02 185.90,375.12 188.00,372.20 C190.10,369.28 191.50,366.95 193.60,365.20 C195.70,363.45 198.73,362.17 200.60,361.70 C202.47,361.23 203.40,361.82 204.80,362.40 C206.20,362.98 207.13,364.15 209.00,365.20 C210.87,366.25 213.67,367.65 216.00,368.70 C218.33,369.75 220.67,370.63 223.00,371.50 C225.33,372.37 227.17,373.32 230.00,373.90 C232.83,374.48 236.77,374.78 240.00,375.00 C243.23,375.22 245.68,375.38 249.40,375.20 C253.12,375.02 257.98,374.60 262.30,373.90 C266.62,373.20 270.95,372.07 275.30,371.00 C279.65,369.93 284.75,368.73 288.40,367.50 C292.05,366.27 294.28,365.00 297.20,363.60 C300.12,362.20 303.02,360.90 305.90,359.10 C308.78,357.30 311.63,355.38 314.50,352.80 C317.37,350.22 320.52,347.00 323.10,343.60 C325.68,340.20 327.98,336.20 330.00,332.40 C332.02,328.60 333.77,324.12 335.20,320.80 C336.63,317.48 337.50,315.05 338.60,312.50 C339.70,309.95 340.83,307.67 341.80,305.50 C342.77,303.33 343.53,301.22 344.40,299.50 C345.27,297.78 346.13,296.13 347.00,295.20 C347.87,294.27 348.68,294.12 349.60,293.90 C350.52,293.68 351.33,293.67 352.50,293.90 C353.67,294.13 355.12,294.78 356.60,295.30 C358.08,295.82 359.73,296.58 361.40,297.00 C363.07,297.42 364.88,297.88 366.60,297.80 C368.32,297.72 369.98,297.37 371.70,296.50 C373.42,295.63 375.17,294.32 376.90,292.60 C378.63,290.88 380.28,288.47 382.10,286.20 C383.92,283.93 386.85,280.20 387.80,279.00" fill="none" stroke="#a52d2a" stroke-width="2.0" stroke-linejoin="round" stroke-linecap="round"/>
<path d="M118.40,386.00 C120.33,386.20 125.57,386.93 130.00,387.20 C134.43,387.47 140.00,387.53 145.00,387.60 C150.00,387.67 156.33,387.67 160.00,387.60 C163.67,387.53 164.67,387.62 167.00,387.20 C169.33,386.78 171.67,386.32 174.00,385.10 C176.33,383.88 178.67,382.75 181.00,379.90 C183.33,377.05 185.90,371.50 188.00,368.00 C190.10,364.50 191.60,361.07 193.60,358.90 C195.60,356.73 197.93,355.75 200.00,355.00 C202.07,354.25 203.80,353.98 206.00,354.40 C208.20,354.82 210.83,356.17 213.20,357.50 C215.57,358.83 217.87,361.18 220.20,362.40 C222.53,363.62 224.48,363.95 227.20,364.80 C229.92,365.65 232.80,366.85 236.50,367.50 C240.20,368.15 245.10,368.65 249.40,368.70 C253.70,368.75 257.98,368.42 262.30,367.80 C266.62,367.18 270.95,366.13 275.30,365.00 C279.65,363.87 284.75,362.23 288.40,361.00 C292.05,359.77 294.28,358.93 297.20,357.60 C300.12,356.27 303.02,354.75 305.90,353.00 C308.78,351.25 311.63,349.43 314.50,347.10 C317.37,344.77 320.52,341.93 323.10,339.00 C325.68,336.07 327.98,332.83 330.00,329.50 C332.02,326.17 333.77,322.08 335.20,319.00 C336.63,315.92 337.35,314.17 338.60,311.00 C339.85,307.83 341.30,303.08 342.70,300.00 C344.10,296.92 345.62,294.50 347.00,292.50 C348.38,290.50 349.50,289.08 351.00,288.00 C352.50,286.92 354.27,286.08 356.00,286.00 C357.73,285.92 359.63,286.75 361.40,287.50 C363.17,288.25 364.88,289.53 366.60,290.50 C368.32,291.47 369.98,292.73 371.70,293.30 C373.42,293.87 375.17,294.55 376.90,293.90 C378.63,293.25 380.28,291.12 382.10,289.40 C383.92,287.68 386.85,284.57 387.80,283.60" fill="none" stroke="#80a83e" stroke-width="2.0" stroke-linejoin="round" stroke-linecap="round"/>
<path d="M118.40,384.40 C120.33,384.58 125.57,385.27 130.00,385.50 C134.43,385.73 140.00,385.80 145.00,385.80 C150.00,385.80 156.33,385.60 160.00,385.50 C163.67,385.40 164.67,385.45 167.00,385.20 C169.33,384.95 171.67,384.87 174.00,384.00 C176.33,383.13 178.67,382.50 181.00,380.00 C183.33,377.50 185.90,372.42 188.00,369.00 C190.10,365.58 191.60,362.00 193.60,359.50 C195.60,357.00 197.93,355.20 200.00,354.00 C202.07,352.80 204.00,352.22 206.00,352.30 C208.00,352.38 209.63,353.28 212.00,354.50 C214.37,355.72 217.67,358.42 220.20,359.60 C222.73,360.78 224.87,361.02 227.20,361.60 C229.53,362.18 231.58,362.53 234.20,363.10 C236.82,363.67 240.37,364.53 242.90,365.00 C245.43,365.47 246.17,365.92 249.40,365.90 C252.63,365.88 257.98,365.47 262.30,364.90 C266.62,364.33 270.95,363.48 275.30,362.50 C279.65,361.52 284.75,360.18 288.40,359.00 C292.05,357.82 294.28,356.77 297.20,355.40 C300.12,354.03 303.02,352.48 305.90,350.80 C308.78,349.12 311.63,347.47 314.50,345.30 C317.37,343.13 320.52,340.55 323.10,337.80 C325.68,335.05 327.98,331.93 330.00,328.80 C332.02,325.67 333.77,321.80 335.20,319.00 C336.63,316.20 337.35,314.75 338.60,312.00 C339.85,309.25 341.30,305.42 342.70,302.50 C344.10,299.58 345.62,296.92 347.00,294.50 C348.38,292.08 349.67,289.65 351.00,288.00 C352.33,286.35 353.27,285.02 355.00,284.60 C356.73,284.18 359.47,284.60 361.40,285.50 C363.33,286.40 364.88,288.67 366.60,290.00 C368.32,291.33 369.98,292.63 371.70,293.50 C373.42,294.37 375.17,295.28 376.90,295.20 C378.63,295.12 380.28,293.87 382.10,293.00 C383.92,292.13 386.85,290.50 387.80,290.00" fill="none" stroke="#5a3e86" stroke-width="2.0" stroke-linejoin="round" stroke-linecap="round"/>
<path d="M118.40,384.00 C120.33,384.17 125.57,384.83 130.00,385.00 C134.43,385.17 140.00,385.08 145.00,385.00 C150.00,384.92 156.33,384.62 160.00,384.50 C163.67,384.38 164.67,384.55 167.00,384.30 C169.33,384.05 171.67,383.92 174.00,383.00 C176.33,382.08 178.67,381.37 181.00,378.80 C183.33,376.23 185.90,371.10 188.00,367.60 C190.10,364.10 191.43,360.32 193.60,357.80 C195.77,355.28 198.93,353.57 201.00,352.50 C203.07,351.43 204.17,351.28 206.00,351.40 C207.83,351.52 209.63,352.07 212.00,353.20 C214.37,354.33 217.67,357.07 220.20,358.20 C222.73,359.33 224.87,359.45 227.20,360.00 C229.53,360.55 231.58,360.90 234.20,361.50 C236.82,362.10 240.37,363.13 242.90,363.60 C245.43,364.07 246.17,364.32 249.40,364.30 C252.63,364.28 257.98,364.08 262.30,363.50 C266.62,362.92 270.95,361.80 275.30,360.80 C279.65,359.80 284.75,358.67 288.40,357.50 C292.05,356.33 294.28,355.13 297.20,353.80 C300.12,352.47 303.02,351.12 305.90,349.50 C308.78,347.88 311.63,346.18 314.50,344.10 C317.37,342.02 320.52,339.65 323.10,337.00 C325.68,334.35 327.98,331.28 330.00,328.20 C332.02,325.12 333.77,321.37 335.20,318.50 C336.63,315.63 337.35,314.00 338.60,311.00 C339.85,308.00 341.30,303.58 342.70,300.50 C344.10,297.42 345.62,295.00 347.00,292.50 C348.38,290.00 349.47,287.32 351.00,285.50 C352.53,283.68 354.47,281.77 356.20,281.60 C357.93,281.43 359.67,283.10 361.40,284.50 C363.13,285.90 364.88,288.37 366.60,290.00 C368.32,291.63 369.98,293.32 371.70,294.30 C373.42,295.28 375.17,295.87 376.90,295.90 C378.63,295.93 380.28,295.05 382.10,294.50 C383.92,293.95 386.85,292.92 387.80,292.60" fill="none" stroke="#4292a6" stroke-width="2.0" stroke-linejoin="round" stroke-linecap="round"/>
<path d="M118.40,383.00 C120.33,383.17 125.57,383.83 130.00,384.00 C134.43,384.17 140.00,384.05 145.00,384.00 C150.00,383.95 156.33,383.80 160.00,383.70 C163.67,383.60 164.67,383.68 167.00,383.40 C169.33,383.12 171.67,382.93 174.00,382.00 C176.33,381.07 178.67,380.37 181.00,377.80 C183.33,375.23 185.90,370.10 188.00,366.60 C190.10,363.10 191.27,359.37 193.60,356.80 C195.93,354.23 199.67,352.32 202.00,351.20 C204.33,350.08 205.73,349.87 207.60,350.10 C209.47,350.33 211.10,351.37 213.20,352.60 C215.30,353.83 217.87,356.45 220.20,357.50 C222.53,358.55 224.87,358.43 227.20,358.90 C229.53,359.37 231.58,359.68 234.20,360.30 C236.82,360.92 240.37,362.10 242.90,362.60 C245.43,363.10 246.17,363.35 249.40,363.30 C252.63,363.25 257.98,362.93 262.30,362.30 C266.62,361.67 270.95,360.55 275.30,359.50 C279.65,358.45 284.75,357.17 288.40,356.00 C292.05,354.83 294.28,353.78 297.20,352.50 C300.12,351.22 303.02,349.87 305.90,348.30 C308.78,346.73 311.63,345.17 314.50,343.10 C317.37,341.03 320.52,338.55 323.10,335.90 C325.68,333.25 327.98,330.27 330.00,327.20 C332.02,324.13 333.77,320.37 335.20,317.50 C336.63,314.63 337.35,313.08 338.60,310.00 C339.85,306.92 341.30,302.33 342.70,299.00 C344.10,295.67 345.62,292.67 347.00,290.00 C348.38,287.33 349.47,284.72 351.00,283.00 C352.53,281.28 354.47,279.72 356.20,279.70 C357.93,279.68 359.67,281.28 361.40,282.90 C363.13,284.52 364.88,287.45 366.60,289.40 C368.32,291.35 369.98,293.37 371.70,294.60 C373.42,295.83 375.17,296.58 376.90,296.80 C378.63,297.02 380.28,296.43 382.10,295.90 C383.92,295.37 386.85,293.98 387.80,293.60" fill="none" stroke="#dc7430" stroke-width="2.0" stroke-linejoin="round" stroke-linecap="round"/>
<path d="M144.30,287.01 C145.52,286.85 149.19,286.37 151.63,286.07 C154.08,285.77 156.52,285.48 158.97,285.20 C161.41,284.91 163.86,284.64 166.30,284.38 C168.75,284.11 171.19,283.86 173.64,283.61 C176.08,283.36 178.53,283.11 180.97,282.87 C183.42,282.64 185.86,282.41 188.31,282.18 C190.75,281.95 193.20,281.73 195.64,281.51 C198.09,281.29 200.53,281.07 202.98,280.86 C205.42,280.64 207.87,280.43 210.31,280.22 C212.76,280.01 215.20,279.81 217.65,279.60 C220.09,279.39 222.54,279.18 224.98,278.98 C227.43,278.77 229.87,278.56 232.32,278.35 C234.76,278.14 237.21,277.93 239.65,277.72 C242.10,277.50 244.54,277.29 246.99,277.07 C249.43,276.85 251.88,276.63 254.32,276.41 C256.77,276.18 259.21,275.96 261.66,275.72 C264.10,275.49 266.55,275.25 268.99,275.01 C271.44,274.77 273.88,274.52 276.33,274.27 C278.77,274.02 281.22,273.76 283.66,273.49 C286.11,273.23 288.55,272.96 291.00,272.68 C293.44,272.40 295.89,272.12 298.33,271.82 C300.78,271.53 303.22,271.23 305.67,270.92 C308.11,270.62 311.78,270.13 313.00,269.98" fill="none" stroke="#3a62a6" stroke-width="2.0" stroke-linejoin="round" stroke-linecap="round"/>
<path d="M144.30,283.08 C145.52,282.88 149.19,282.25 151.63,281.85 C154.08,281.44 156.52,281.04 158.97,280.64 C161.41,280.25 163.86,279.86 166.30,279.48 C168.75,279.10 171.19,278.72 173.64,278.36 C176.08,278.00 178.53,277.65 180.97,277.31 C183.42,276.97 185.86,276.63 188.31,276.31 C190.75,276.00 193.20,275.69 195.64,275.39 C198.09,275.10 200.53,274.81 202.98,274.54 C205.42,274.27 207.87,274.01 210.31,273.77 C212.76,273.52 215.20,273.29 217.65,273.06 C220.09,272.84 222.54,272.63 224.98,272.44 C227.43,272.24 229.87,272.05 232.32,271.88 C234.76,271.70 237.21,271.54 239.65,271.39 C242.10,271.23 244.54,271.09 246.99,270.95 C249.43,270.82 251.88,270.69 254.32,270.57 C256.77,270.45 259.21,270.34 261.66,270.23 C264.10,270.13 266.55,270.03 268.99,269.93 C271.44,269.83 273.88,269.74 276.33,269.64 C278.77,269.55 281.22,269.46 283.66,269.36 C286.11,269.27 288.55,269.17 291.00,269.07 C293.44,268.97 295.89,268.87 298.33,268.76 C300.78,268.65 303.22,268.53 305.67,268.40 C308.11,268.27 311.78,268.05 313.00,267.97" fill="none" stroke="#a52d2a" stroke-width="2.0" stroke-linejoin="round" stroke-linecap="round"/>
<path d="M144.30,280.60 C145.52,280.25 149.19,279.18 151.63,278.50 C154.08,277.82 156.52,277.16 158.97,276.53 C161.41,275.90 163.86,275.29 166.30,274.71 C168.75,274.13 171.19,273.57 173.64,273.04 C176.08,272.52 178.53,272.01 180.97,271.54 C183.42,271.07 185.86,270.63 188.31,270.21 C190.75,269.80 193.20,269.41 195.64,269.05 C198.09,268.69 200.53,268.36 202.98,268.06 C205.42,267.76 207.87,267.48 210.31,267.23 C212.76,266.99 215.20,266.77 217.65,266.57 C220.09,266.37 222.54,266.21 224.98,266.06 C227.43,265.91 229.87,265.79 232.32,265.69 C234.76,265.59 237.21,265.51 239.65,265.45 C242.10,265.39 244.54,265.35 246.99,265.32 C249.43,265.29 251.88,265.29 254.32,265.29 C256.77,265.29 259.21,265.30 261.66,265.32 C264.10,265.34 266.55,265.38 268.99,265.41 C271.44,265.44 273.88,265.48 276.33,265.52 C278.77,265.55 281.22,265.59 283.66,265.62 C286.11,265.65 288.55,265.68 291.00,265.69 C293.44,265.70 295.89,265.70 298.33,265.68 C300.78,265.66 303.22,265.63 305.67,265.57 C308.11,265.50 311.78,265.35 313.00,265.31" fill="none" stroke="#80a83e" stroke-width="2.0" stroke-linejoin="round" stroke-linecap="round"/>
<path d="M144.30,278.96 C145.52,278.51 149.19,277.12 151.63,276.25 C154.08,275.38 156.52,274.53 158.97,273.73 C161.41,272.92 163.86,272.15 166.30,271.42 C168.75,270.69 171.19,269.99 173.64,269.34 C176.08,268.69 178.53,268.08 180.97,267.51 C183.42,266.94 185.86,266.41 188.31,265.92 C190.75,265.43 193.20,264.99 195.64,264.58 C198.09,264.18 200.53,263.82 202.98,263.50 C205.42,263.18 207.87,262.90 210.31,262.66 C212.76,262.42 215.20,262.23 217.65,262.06 C220.09,261.90 222.54,261.78 224.98,261.69 C227.43,261.60 229.87,261.54 232.32,261.52 C234.76,261.49 237.21,261.50 239.65,261.53 C242.10,261.56 244.54,261.63 246.99,261.70 C249.43,261.78 251.88,261.89 254.32,262.00 C256.77,262.12 259.21,262.25 261.66,262.39 C264.10,262.53 266.55,262.69 268.99,262.84 C271.44,262.99 273.88,263.14 276.33,263.29 C278.77,263.43 281.22,263.58 283.66,263.70 C286.11,263.83 288.55,263.94 291.00,264.03 C293.44,264.11 295.89,264.18 298.33,264.20 C300.78,264.23 303.22,264.23 305.67,264.17 C308.11,264.11 311.78,263.92 313.00,263.87" fill="none" stroke="#5a3e86" stroke-width="2.0" stroke-linejoin="round" stroke-linecap="round"/>
<path d="M144.30,277.76 C145.52,277.28 149.19,275.83 151.63,274.89 C154.08,273.95 156.52,273.02 158.97,272.13 C161.41,271.24 163.86,270.36 166.30,269.53 C168.75,268.70 171.19,267.89 173.64,267.14 C176.08,266.38 178.53,265.66 180.97,264.99 C183.42,264.32 185.86,263.70 188.31,263.12 C190.75,262.55 193.20,262.03 195.64,261.56 C198.09,261.08 200.53,260.66 202.98,260.30 C205.42,259.93 207.87,259.62 210.31,259.36 C212.76,259.10 215.20,258.89 217.65,258.73 C220.09,258.57 222.54,258.47 224.98,258.41 C227.43,258.35 229.87,258.34 232.32,258.37 C234.76,258.40 237.21,258.48 239.65,258.59 C242.10,258.70 244.54,258.85 246.99,259.02 C249.43,259.20 251.88,259.41 254.32,259.64 C256.77,259.86 259.21,260.12 261.66,260.37 C264.10,260.63 266.55,260.91 268.99,261.17 C271.44,261.44 273.88,261.71 276.33,261.96 C278.77,262.21 281.22,262.46 283.66,262.67 C286.11,262.88 288.55,263.08 291.00,263.21 C293.44,263.35 295.89,263.46 298.33,263.49 C300.78,263.52 303.22,263.51 305.67,263.40 C308.11,263.29 311.78,262.93 313.00,262.83" fill="none" stroke="#4292a6" stroke-width="2.0" stroke-linejoin="round" stroke-linecap="round"/>
<path d="M144.30,276.70 C145.52,276.22 149.19,274.75 151.63,273.79 C154.08,272.84 156.52,271.88 158.97,270.96 C161.41,270.04 163.86,269.14 166.30,268.28 C168.75,267.41 171.19,266.58 173.64,265.79 C176.08,265.00 178.53,264.25 180.97,263.55 C183.42,262.85 185.86,262.20 188.31,261.60 C190.75,261.00 193.20,260.45 195.64,259.96 C198.09,259.47 200.53,259.03 202.98,258.66 C205.42,258.28 207.87,257.96 210.31,257.69 C212.76,257.43 215.20,257.22 217.65,257.07 C220.09,256.91 222.54,256.82 224.98,256.77 C227.43,256.73 229.87,256.74 232.32,256.79 C234.76,256.84 237.21,256.95 239.65,257.09 C242.10,257.23 244.54,257.41 246.99,257.63 C249.43,257.84 251.88,258.09 254.32,258.36 C256.77,258.62 259.21,258.92 261.66,259.22 C264.10,259.52 266.55,259.84 268.99,260.15 C271.44,260.46 273.88,260.78 276.33,261.07 C278.77,261.36 281.22,261.64 283.66,261.88 C286.11,262.12 288.55,262.35 291.00,262.50 C293.44,262.66 295.89,262.78 298.33,262.82 C300.78,262.85 303.22,262.84 305.67,262.71 C308.11,262.59 311.78,262.17 313.00,262.06" fill="none" stroke="#dc7430" stroke-width="2.0" stroke-linejoin="round" stroke-linecap="round"/>
<line x1="348.10" y1="355.10" x2="368.30" y2="355.10" stroke="#3a62a6" stroke-width="2" />
<text x="370.90" y="357.90" font-size="8.8" textLength="31.65" lengthAdjust="spacingAndGlyphs">WE(0.0)</text>
<line x1="348.10" y1="365.62" x2="368.30" y2="365.62" stroke="#a52d2a" stroke-width="2" />
<text x="370.90" y="368.42" font-size="8.8" textLength="31.65" lengthAdjust="spacingAndGlyphs">WE(0.2)</text>
<line x1="348.10" y1="376.14" x2="368.30" y2="376.14" stroke="#80a83e" stroke-width="2" />
<text x="370.90" y="378.94" font-size="8.8" textLength="31.65" lengthAdjust="spacingAndGlyphs">WE(0.4)</text>
<line x1="348.10" y1="386.66" x2="368.30" y2="386.66" stroke="#5a3e86" stroke-width="2" />
<text x="370.90" y="389.46" font-size="8.8" textLength="31.65" lengthAdjust="spacingAndGlyphs">WE(0.6)</text>
<line x1="348.10" y1="397.18" x2="368.30" y2="397.18" stroke="#4292a6" stroke-width="2" />
<text x="370.90" y="399.98" font-size="8.8" textLength="31.65" lengthAdjust="spacingAndGlyphs">WE(0.8)</text>
<line x1="348.10" y1="407.70" x2="368.30" y2="407.70" stroke="#dc7430" stroke-width="2" />
<text x="370.90" y="410.50" font-size="8.8" textLength="24.05" lengthAdjust="spacingAndGlyphs">WE(1)</text>
<line x1="486.00" y1="24.80" x2="486.00" y2="185.50" stroke="#989898" stroke-width="1" />
<line x1="485.50" y1="185.00" x2="678.00" y2="185.00" stroke="#989898" stroke-width="1" />
<line x1="482.60" y1="185.00" x2="486.00" y2="185.00" stroke="#989898" stroke-width="1" />
<text x="477.50" y="188.10" font-size="8.8" textLength="4.83" lengthAdjust="spacingAndGlyphs" text-anchor="end">6</text>
<line x1="482.60" y1="158.30" x2="486.00" y2="158.30" stroke="#989898" stroke-width="1" />
<text x="477.50" y="161.40" font-size="8.8" textLength="12.43" lengthAdjust="spacingAndGlyphs" text-anchor="end">6.5</text>
<line x1="482.60" y1="131.60" x2="486.00" y2="131.60" stroke="#989898" stroke-width="1" />
<text x="477.50" y="134.70" font-size="8.8" textLength="4.83" lengthAdjust="spacingAndGlyphs" text-anchor="end">7</text>
<line x1="482.60" y1="104.90" x2="486.00" y2="104.90" stroke="#989898" stroke-width="1" />
<text x="477.50" y="108.00" font-size="8.8" textLength="12.43" lengthAdjust="spacingAndGlyphs" text-anchor="end">7.5</text>
<line x1="482.60" y1="78.20" x2="486.00" y2="78.20" stroke="#989898" stroke-width="1" />
<text x="477.50" y="81.30" font-size="8.8" textLength="4.83" lengthAdjust="spacingAndGlyphs" text-anchor="end">8</text>
<line x1="482.60" y1="51.50" x2="486.00" y2="51.50" stroke="#989898" stroke-width="1" />
<text x="477.50" y="54.60" font-size="8.8" textLength="12.43" lengthAdjust="spacingAndGlyphs" text-anchor="end">8.5</text>
<line x1="482.60" y1="24.80" x2="486.00" y2="24.80" stroke="#989898" stroke-width="1" />
<text x="477.50" y="27.90" font-size="8.8" textLength="4.83" lengthAdjust="spacingAndGlyphs" text-anchor="end">9</text>
<line x1="486.00" y1="185.00" x2="486.00" y2="188.50" stroke="#989898" stroke-width="1" />
<text x="486.00" y="199.60" font-size="8.8" textLength="4.83" lengthAdjust="spacingAndGlyphs" text-anchor="middle">0</text>
<line x1="550.00" y1="185.00" x2="550.00" y2="188.50" stroke="#989898" stroke-width="1" />
<text x="550.00" y="199.60" font-size="8.8" textLength="12.43" lengthAdjust="spacingAndGlyphs" text-anchor="middle">0.5</text>
<line x1="614.00" y1="185.00" x2="614.00" y2="188.50" stroke="#989898" stroke-width="1" />
<text x="614.00" y="199.60" font-size="8.8" textLength="4.83" lengthAdjust="spacingAndGlyphs" text-anchor="middle">1</text>
<line x1="678.00" y1="185.00" x2="678.00" y2="188.50" stroke="#989898" stroke-width="1" />
<text x="678.00" y="199.60" font-size="8.8" textLength="12.43" lengthAdjust="spacingAndGlyphs" text-anchor="middle">1.5</text>
<text x="582.00" y="212.80" font-size="8.6" textLength="74.00" lengthAdjust="spacingAndGlyphs" text-anchor="middle" font-weight="bold" fill="#000" stroke="#000">Concentration (%)</text>
<text x="457.80" y="104.60" font-size="8.6" textLength="46.60" lengthAdjust="spacingAndGlyphs" text-anchor="middle" font-weight="bold" fill="#000" stroke="#000" transform="rotate(-90 457.80 104.60)">Current (µA)</text>
<path d="M511.60,157.23 C515.87,147.04 528.67,110.20 537.20,96.09 C545.73,81.98 554.27,77.35 562.80,72.59 C571.33,67.83 579.87,69.88 588.40,67.52 C596.93,65.16 609.73,59.96 614.00,58.44" fill="none" stroke="#4677c1" stroke-width="2.3" stroke-linejoin="round"/>
<path d="M511.60,153.63 L515.20,157.23 L511.60,160.83 L508.00,157.23 Z" fill="#4677c1"/>
<path d="M537.20,92.49 L540.80,96.09 L537.20,99.69 L533.60,96.09 Z" fill="#4677c1"/>
<path d="M562.80,68.99 L566.40,72.59 L562.80,76.19 L559.20,72.59 Z" fill="#4677c1"/>
<path d="M588.40,63.92 L592.00,67.52 L588.40,71.12 L584.80,67.52 Z" fill="#4677c1"/>
<path d="M614.00,54.84 L617.60,58.44 L614.00,62.04 L610.40,58.44 Z" fill="#4677c1"/>
<line x1="511.60" y1="135.23" x2="614.00" y2="45.31" stroke="#333" stroke-width="1.0" />
<text x="626.30" y="108.60" font-size="8.8" textLength="74.50" lengthAdjust="spacingAndGlyphs" text-anchor="middle">y = 2.105x + 6.511</text>
<text x="626.40" y="119.40" font-size="8.8" textLength="46.10" lengthAdjust="spacingAndGlyphs" text-anchor="middle">R² = 0.8052</text>
<line x1="498.20" y1="274.00" x2="498.20" y2="418.90" stroke="#989898" stroke-width="1" />
<line x1="497.70" y1="418.40" x2="671.40" y2="418.40" stroke="#989898" stroke-width="1" />
<line x1="494.80" y1="418.40" x2="498.20" y2="418.40" stroke="#989898" stroke-width="1" />
<text x="489.50" y="421.50" font-size="8.8" textLength="4.83" lengthAdjust="spacingAndGlyphs" text-anchor="end">8</text>
<line x1="494.80" y1="394.33" x2="498.20" y2="394.33" stroke="#989898" stroke-width="1" />
<text x="489.50" y="397.43" font-size="8.8" textLength="12.43" lengthAdjust="spacingAndGlyphs" text-anchor="end">8.5</text>
<line x1="494.80" y1="370.27" x2="498.20" y2="370.27" stroke="#989898" stroke-width="1" />
<text x="489.50" y="373.37" font-size="8.8" textLength="4.83" lengthAdjust="spacingAndGlyphs" text-anchor="end">9</text>
<line x1="494.80" y1="346.20" x2="498.20" y2="346.20" stroke="#989898" stroke-width="1" />
<text x="489.50" y="349.30" font-size="8.8" textLength="12.43" lengthAdjust="spacingAndGlyphs" text-anchor="end">9.5</text>
<line x1="494.80" y1="322.13" x2="498.20" y2="322.13" stroke="#989898" stroke-width="1" />
<text x="489.50" y="325.23" font-size="8.8" textLength="9.67" lengthAdjust="spacingAndGlyphs" text-anchor="end">10</text>
<line x1="494.80" y1="298.07" x2="498.20" y2="298.07" stroke="#989898" stroke-width="1" />
<text x="489.50" y="301.17" font-size="8.8" textLength="17.27" lengthAdjust="spacingAndGlyphs" text-anchor="end">10.5</text>
<line x1="494.80" y1="274.00" x2="498.20" y2="274.00" stroke="#989898" stroke-width="1" />
<text x="489.50" y="277.10" font-size="8.8" textLength="9.67" lengthAdjust="spacingAndGlyphs" text-anchor="end">11</text>
<line x1="498.20" y1="418.40" x2="498.20" y2="421.90" stroke="#989898" stroke-width="1" />
<text x="498.20" y="432.80" font-size="8.8" textLength="4.83" lengthAdjust="spacingAndGlyphs" text-anchor="middle">0</text>
<line x1="555.93" y1="418.40" x2="555.93" y2="421.90" stroke="#989898" stroke-width="1" />
<text x="555.93" y="432.80" font-size="8.8" textLength="12.43" lengthAdjust="spacingAndGlyphs" text-anchor="middle">0.5</text>
<line x1="613.67" y1="418.40" x2="613.67" y2="421.90" stroke="#989898" stroke-width="1" />
<text x="613.67" y="432.80" font-size="8.8" textLength="4.83" lengthAdjust="spacingAndGlyphs" text-anchor="middle">1</text>
<line x1="671.40" y1="418.40" x2="671.40" y2="421.90" stroke="#989898" stroke-width="1" />
<text x="671.40" y="432.80" font-size="8.8" textLength="12.43" lengthAdjust="spacingAndGlyphs" text-anchor="middle">1.5</text>
<text x="584.30" y="445.40" font-size="8.6" textLength="74.60" lengthAdjust="spacingAndGlyphs" text-anchor="middle" font-weight="bold" fill="#000" stroke="#000">Concentration (%)</text>
<text x="464.20" y="346.00" font-size="8.6" textLength="47.50" lengthAdjust="spacingAndGlyphs" text-anchor="middle" font-weight="bold" fill="#000" stroke="#000" transform="rotate(-90 464.20 346.00)">Cuurent (µA)</text>
<path d="M498.20,383.74 C502.05,378.29 513.60,361.28 521.29,351.01 C528.99,340.74 536.69,330.16 544.39,322.13 C552.08,314.11 559.78,309.46 567.48,302.88 C575.18,296.30 582.88,286.68 590.57,282.66 C598.27,278.65 609.82,279.46 613.67,278.81" fill="none" stroke="#4677c1" stroke-width="2.3" stroke-linejoin="round"/>
<path d="M498.20,380.14 L501.80,383.74 L498.20,387.34 L494.60,383.74 Z" fill="#4677c1"/>
<path d="M521.29,347.41 L524.89,351.01 L521.29,354.61 L517.69,351.01 Z" fill="#4677c1"/>
<path d="M544.39,318.53 L547.99,322.13 L544.39,325.73 L540.79,322.13 Z" fill="#4677c1"/>
<path d="M567.48,299.28 L571.08,302.88 L567.48,306.48 L563.88,302.88 Z" fill="#4677c1"/>
<path d="M590.57,279.06 L594.17,282.66 L590.57,286.26 L586.97,282.66 Z" fill="#4677c1"/>
<path d="M613.67,275.21 L617.27,278.81 L613.67,282.41 L610.07,278.81 Z" fill="#4677c1"/>
<line x1="498.20" y1="373.84" x2="606.16" y2="274.00" stroke="#333" stroke-width="1.0" />
<text x="606.20" y="366.00" font-size="8.8" textLength="84.30" lengthAdjust="spacingAndGlyphs" text-anchor="middle">y = 2.2186x + 8.9257</text>
<text x="607.10" y="376.40" font-size="8.8" textLength="46.20" lengthAdjust="spacingAndGlyphs" text-anchor="middle">R² = 0.9536</text>
<text x="4.00" y="12.10" font-size="15" textLength="7.60" lengthAdjust="spacingAndGlyphs" fill="#000" stroke="#000">a</text>
<text x="440.30" y="17.80" font-size="15" textLength="8.00" lengthAdjust="spacingAndGlyphs" fill="#000" stroke="#000">b</text>
<text style="stroke-width:0.55px" x="4.60" y="261.70" font-size="15" textLength="7.40" lengthAdjust="spacingAndGlyphs" fill="#000" stroke="#000">c</text>
<text x="439.80" y="261.80" font-size="15" textLength="8.20" lengthAdjust="spacingAndGlyphs" fill="#000" stroke="#000">d</text>
</svg>
</body></html>
